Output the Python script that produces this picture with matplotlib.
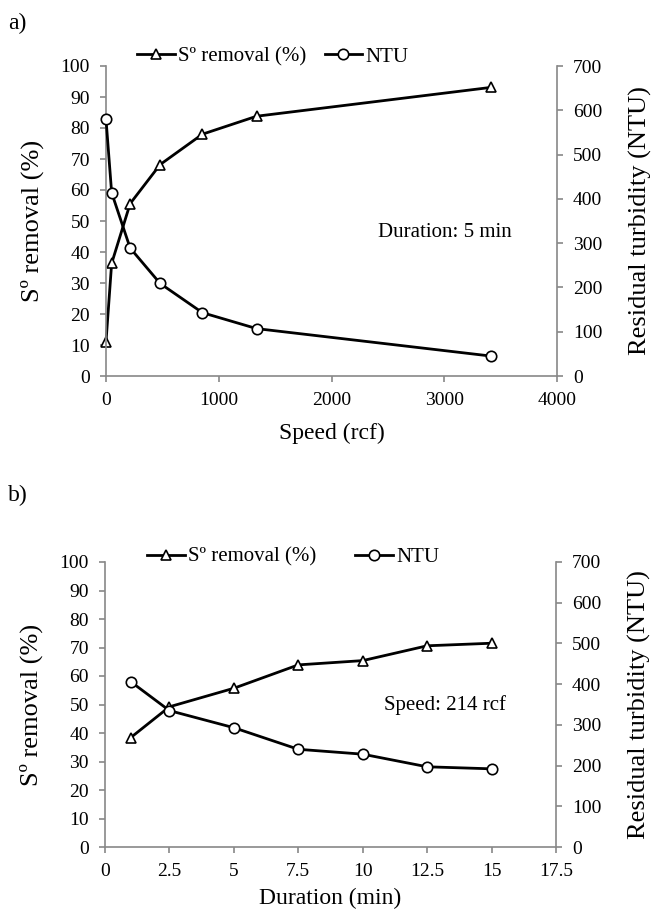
import matplotlib
matplotlib.use('Agg')
import matplotlib.pyplot as plt

plt.rcParams['font.family'] = ['Liberation Serif', 'DejaVu Serif']
plt.rcParams['font.size'] = 14

# panel a) - speed series, duration 5 min
speed_rcf = [0, 50, 214, 480, 855, 1336, 3415]
removal_a = [11, 36.3, 55.6, 68.2, 78, 83.8, 93.1]
ntu_a = [580, 414, 289, 209, 143, 107, 45]

# panel b) - duration series, speed 214 rcf
duration_min = [1, 2.5, 5, 7.5, 10, 12.5, 15]
removal_b = [38.4, 49.2, 55.7, 63.9, 65.4, 70.6, 71.5]
ntu_b = [406, 335, 293, 240, 228, 197, 192]

W, H = 656, 913
fig = plt.figure(figsize=(W / 100, H / 100), dpi=100)


def px_axes(x0, y0, x1, y1):
    return fig.add_axes([x0 / W, 1 - y1 / H, (x1 - x0) / W, (y1 - y0) / H])


def style(ax, ax2):
    for a in (ax, ax2):
        a.spines['top'].set_visible(False)
        for s in ('left', 'right', 'bottom'):
            a.spines[s].set_color('#888888')
            a.spines[s].set_linewidth(1.2)
        a.tick_params(direction='out', color='#888888', length=4.5, width=1.2,
                      pad=7, labelsize=14)
    ax.spines['right'].set_visible(False)
    ax2.spines['left'].set_visible(False)
    ax2.spines['bottom'].set_visible(False)


def panel(ax, x, rem, ntu, xlim, xticks, xlabel, xpad, note, note_xy,
          leg_xy, leg_gap):
    ax2 = ax.twinx()
    l1, = ax.plot(x, rem, '-^', color='black', lw=2, ms=7.5, mfc='white',
                  mec='black', mew=1.2, label='S\u00ba removal (%)', clip_on=False)
    l2, = ax2.plot(x, ntu, '-o', color='black', lw=2, ms=7.5, mfc='white',
                   mec='black', mew=1.2, label='NTU', clip_on=False)
    ax.set_xlim(*xlim)
    ax.set_xticks(xticks)
    ax.set_xticklabels([f'{t:g}' for t in xticks])
    ax.set_ylim(0, 100)
    ax.set_yticks(range(0, 101, 10))
    ax2.set_ylim(0, 700)
    ax2.set_yticks(range(0, 701, 100))
    ax.set_xlabel(xlabel, fontsize=17, labelpad=xpad)
    ax.set_ylabel('S\u00ba removal (%)', fontsize=19, labelpad=12)
    ax2.set_ylabel('Residual turbidity (NTU)', fontsize=19, labelpad=19)
    ax.text(*note_xy, note, fontsize=15, ha='center', va='center')
    fig.legend(handles=[l1, l2], loc='center left', bbox_to_anchor=leg_xy,
               ncol=2, frameon=False, fontsize=15, handlelength=1.8,
               handletextpad=0.15, columnspacing=leg_gap, borderaxespad=0,
               borderpad=0)
    style(ax, ax2)
    return ax2


ax_a = px_axes(106, 66, 557, 376)
panel(ax_a, speed_rcf, removal_a, ntu_a, (0, 4000), [0, 1000, 2000, 3000, 4000],
      'Speed (rcf)', 10, 'Duration: 5 min', (3007, 46.3),
      (137 / W, 1 - 57 / H), 0.9)

ax_b = px_axes(105, 562, 556, 847)
panel(ax_b, duration_min, removal_b, ntu_b, (0, 17.5),
      [0, 2.5, 5, 7.5, 10, 12.5, 15, 17.5], 'Duration (min)', 6,
      'Speed: 214 rcf', (13.2, 49.8), (147 / W, 1 - 557 / H), 1.9)

fig.text(8 / W, 1 - 23 / H, 'a)', fontsize=17, va='center')
fig.text(8 / W, 1 - 495 / H, 'b)', fontsize=17, va='center')

fig.savefig('out.png', dpi=100)
